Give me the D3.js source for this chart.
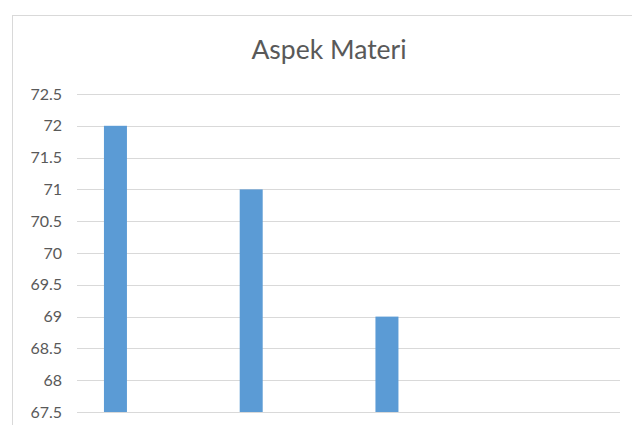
<!DOCTYPE html>
<html><head><meta charset="utf-8">
<script src="https://cdn.jsdelivr.net/npm/d3@7"></script>
<style>body{margin:0;background:#fff}svg{display:block}</style>
</head><body>
<script>
const title = "Aspek Materi";
const categories = ["1", "2", "3", "4"];
const values = [72, 71, 69, null];
const yTicks = [67.5, 68, 68.5, 69, 69.5, 70, 70.5, 71, 71.5, 72, 72.5];

const W = 632, H = 425;
const svg = d3.select("body").append("svg").attr("width", W).attr("height", H);
svg.append("rect").attr("x", 12.5).attr("y", 15.5).attr("width", W).attr("height", H)
  .attr("fill", "#fff").attr("stroke", "#d9d9d9");

const y = d3.scaleLinear().domain([67.5, 72.5]).range([412, 94]);
const x = d3.scaleBand().domain(categories).range([77, 620])
  .paddingInner(0.8306).paddingOuter(0.4153).align(0.239);

svg.append("g").selectAll("line").data(yTicks).join("line")
  .attr("x1", 77).attr("x2", 620)
  .attr("y1", d => Math.round(y(d)) + 0.5).attr("y2", d => Math.round(y(d)) + 0.5)
  .attr("stroke", "#d9d9d9").attr("stroke-width", 1);

svg.append("g").selectAll("text").data(yTicks).join("text")
  .attr("x", 62).attr("y", d => y(d)).attr("dy", "0.35em")
  .attr("text-anchor", "end").attr("fill", "#595959")
  .attr("font-family", "Lato, sans-serif").attr("font-size", 16)
  .text(d => d);

svg.append("g").selectAll("rect").data(categories.map((c, i) => ({c, v: values[i]})).filter(d => d.v != null))
  .join("rect")
  .attr("x", d => x(d.c)).attr("width", x.bandwidth())
  .attr("y", d => y(d.v)).attr("height", d => y(67.5) - y(d.v))
  .attr("fill", "#5b9bd5");

svg.append("text").attr("x", 329).attr("y", 58.5).attr("text-anchor", "middle")
  .attr("fill", "#595959").attr("font-family", "Lato, sans-serif").attr("font-size", 26.5)
  .text(title);
</script>
</body></html>
